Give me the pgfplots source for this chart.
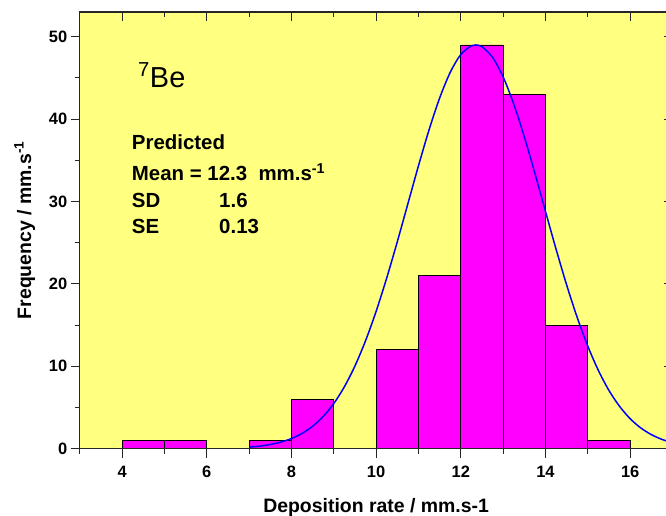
\documentclass[border=0pt]{standalone}
\usepackage{pgfplots}
\pgfplotsset{compat=1.18}
\usepackage{fontspec}
\setmainfont{Liberation Sans}
\definecolor{bgyellow}{RGB}{255,255,128}
\definecolor{barmag}{RGB}{255,0,255}
\begin{document}
\begin{tikzpicture}
\path[use as bounding box] (-79.7bp,-67.3bp) rectangle (586bp,448.4bp);
\pgfplotsset{
  common/.style={
    at={(0,0)}, anchor=south west,
    scale only axis, width=592.5bp, height=436.4bp,
    xmin=3, xmax=17, ymin=0, ymax=53,
    xtick={4,6,...,16}, minor xtick={3,5,...,17},
    ytick={0,10,...,50}, minor ytick={5,15,...,45},
    major tick length=9bp, minor tick length=5bp,
    axis line style={line width=1.1bp, black!85},
    every tick/.style={line width=1bp, black!85},
  }
}
\begin{axis}[common,
  name=main,
  axis background/.style={fill=bgyellow},
  xtick pos=lower, ytick pos=left, tick align=outside,
  /pgf/number format/assume math mode=true,
  tick label style={font=\fontsize{16.5}{16.5}\selectfont\bfseries},
  xticklabel style={yshift=-5bp},
  xlabel={Deposition rate / mm.s-1},
  ylabel={Frequency / mm.s\textsuperscript{-1}},
  label style={font=\fontsize{19.5}{19.5}\selectfont\bfseries},
  xlabel style={at={(axis description cs:0.5,-0.1473)}, anchor=base},
  ylabel style={at={(axis description cs:-0.0822,0.5)}, anchor=base},
]
\addplot[ybar interval, fill=barmag, draw=black, line width=0.9bp]
  coordinates {(4,1)(5,1)(6,0)(7,1)(8,6)(9,0)(10,12)(11,21)(12,49)(13,43)(14,15)(15,1)(16,0)};
\addplot[blue, line width=1.5bp, smooth, no marks] coordinates {
(7,0.18)(7.25,0.30)(7.5,0.50)(7.75,0.79)(8,1.22)(8.25,1.84)(8.5,2.71)(8.75,3.90)
(9,5.47)(9.25,7.50)(9.5,10.03)(9.75,13.09)(10,16.66)(10.25,20.71)(10.5,25.11)(10.75,29.72)
(11,34.33)(11.25,38.69)(11.5,42.55)(11.75,45.67)(12,47.84)(12.25,48.90)(12.35,49.0)(12.5,48.78)
(12.75,47.49)(13,45.12)(13.25,41.83)(13.5,37.85)(13.75,33.42)(14,28.79)(14.25,24.21)(14.5,19.86)
(14.75,15.91)(15,12.43)(15.25,9.48)(15.5,7.05)(15.75,5.13)(16,3.63)(16.25,2.51)(16.5,1.70)
(16.75,1.12)(17,0.72)};
\node[anchor=base west, font=\fontsize{29}{29}\selectfont, inner sep=0pt] at (axis cs:4.377,43.84) {\raisebox{2bp}{\textsuperscript{7}}Be};
\node[anchor=base west, font=\fontsize{20.5}{20.5}\selectfont\bfseries, inner sep=0pt] at (axis cs:4.228,36.36) {Predicted};
\node[anchor=base west, font=\fontsize{20.5}{20.5}\selectfont\bfseries, inner sep=0pt] at (axis cs:4.228,32.51) {Mean = 12.3\ \ mm.s\textsuperscript{-1}};
\node[anchor=base west, font=\fontsize{20.5}{20.5}\selectfont\bfseries, inner sep=0pt] at (axis cs:4.228,29.27) {SD};
\node[anchor=base west, font=\fontsize{20.5}{20.5}\selectfont\bfseries, inner sep=0pt] at (axis cs:6.29,29.27) {1.6};
\node[anchor=base west, font=\fontsize{20.5}{20.5}\selectfont\bfseries, inner sep=0pt] at (axis cs:4.228,26.16) {SE};
\node[anchor=base west, font=\fontsize{20.5}{20.5}\selectfont\bfseries, inner sep=0pt] at (axis cs:6.29,26.16) {0.13};
\end{axis}
\begin{axis}[common,
  xtick pos=upper, ytick pos=right, tick align=inside,
  xticklabels={}, yticklabels={},
]
\end{axis}
\end{tikzpicture}
\end{document}
